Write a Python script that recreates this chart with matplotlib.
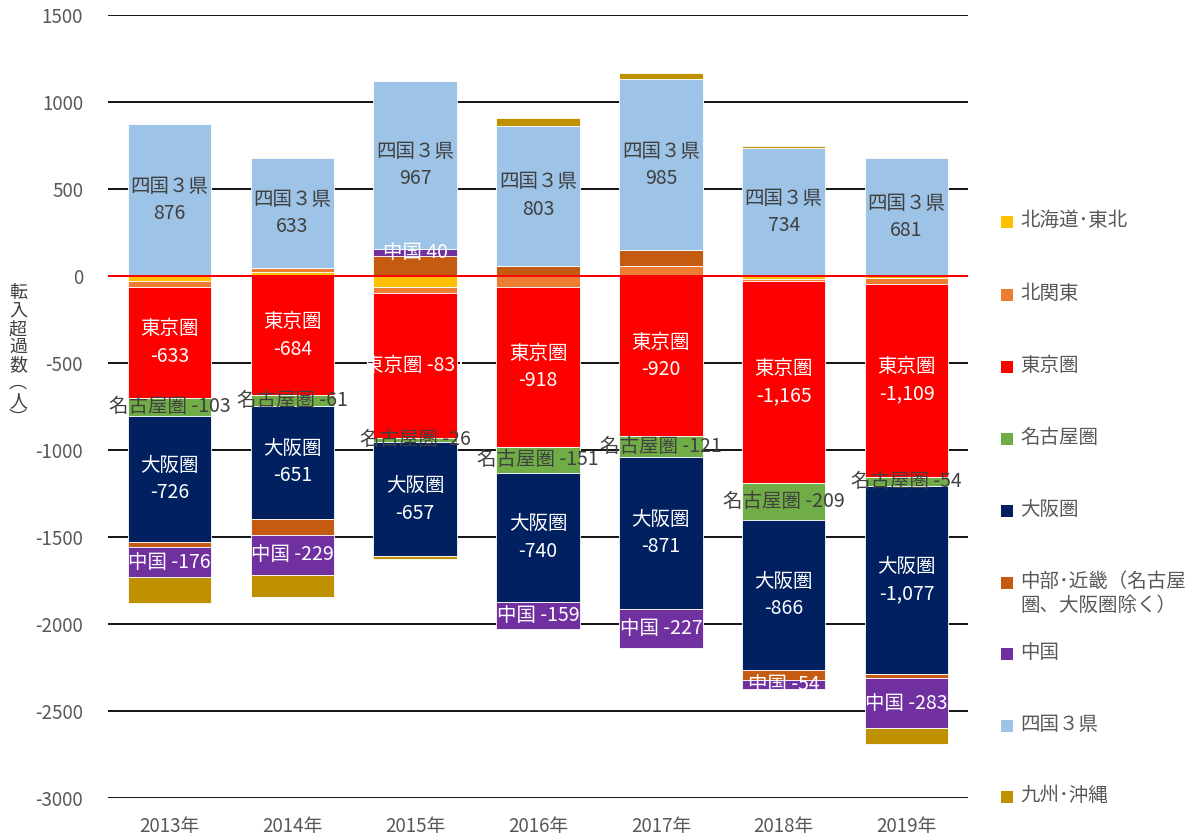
import matplotlib
matplotlib.use('Agg')
import matplotlib.pyplot as plt
from matplotlib.patches import Rectangle
import numpy as np

plt.rcParams['font.family'] = ['Noto Sans CJK JP', 'DejaVu Sans']
plt.rcParams['axes.unicode_minus'] = False

years = ['2013年', '2014年', '2015年', '2016年', '2017年', '2018年', '2019年']
legend_labels = ['北海道･東北', '北関東', '東京圏', '名古屋圏', '大阪圏',
                 '中部･近畿（名古屋\n圏、大阪圏除く）', '中国', '四国３県', '九州･沖縄']
colors = ['#FFC000', '#ED7D31', '#FF0000', '#70AD47', '#002060',
          '#C55A11', '#7030A0', '#9DC3E6', '#BF9000']

hokkaido = [-30, 22, -63, 8, 0, -18, -10]
kitakanto = [-36, 25, -35, -63, 55, -9, -35]
tokyo = [-633, -684, -831, -918, -920, -1165, -1109]
nagoya = [-103, -61, -26, -151, -121, -209, -54]
osaka = [-726, -651, -657, -740, -871, -866, -1077]
chubu = [-28, -92, 115, 52, 92, -55, -28]
chugoku = [-176, -229, 40, -159, -227, -54, -283]
shikoku = [876, 633, 967, 803, 985, 734, 681]
kyushu = [-147, -128, -15, 45, 35, 12, -96]

data = [hokkaido, kitakanto, tokyo, nagoya, osaka, chubu, chugoku, shikoku, kyushu]

fig = plt.figure(figsize=(11.96, 8.38), dpi=100)
ax = fig.add_axes([108 / 1196, 40 / 838, 860 / 1196, 783 / 838])

x = np.arange(len(years))
pos_base = np.zeros(len(years))
neg_base = np.zeros(len(years))
centers = []
for vals, col in zip(data, colors):
    v = np.array(vals, dtype=float)
    bottom = np.where(v >= 0, pos_base, neg_base)
    ax.bar(x, v, 0.68, bottom=bottom, color=col, edgecolor='white', linewidth=0.6, zorder=2)
    centers.append(bottom + v / 2)
    pos_base = pos_base + np.where(v > 0, v, 0)
    neg_base = neg_base + np.where(v < 0, v, 0)

dark = '#404040'
lab_fs = 14
for i in range(len(years)):
    # 四国3県
    ax.text(x[i], centers[7][i], f'四国３県\n{shikoku[i]:,}', ha='center', va='center',
            color=dark, fontsize=lab_fs, linespacing=1.4, zorder=4)
    # 東京圏
    if i == 2:
        t = f'東京圏 {tokyo[i]:,}'
    else:
        t = f'東京圏\n{tokyo[i]:,}'
    ax.text(x[i], centers[2][i], t, ha='center', va='center', color='white',
            fontsize=lab_fs, linespacing=1.4, zorder=4)
    # 名古屋圏
    ax.text(x[i], centers[3][i], f'名古屋圏 {nagoya[i]:,}', ha='center', va='center',
            color=dark, fontsize=lab_fs, zorder=4)
    # 大阪圏
    ax.text(x[i], centers[4][i], f'大阪圏\n{osaka[i]:,}', ha='center', va='center',
            color='white', fontsize=lab_fs, linespacing=1.4, zorder=4)
    # 中国
    ax.text(x[i], centers[6][i], f'中国 {chugoku[i]:,}', ha='center', va='center',
            color='white', fontsize=lab_fs, zorder=4)

ax.set_xlim(-0.5, len(years) - 0.5)
ax.set_ylim(-3000, 1500)
ax.set_yticks(np.arange(-3000, 1501, 500))
ax.set_xticks(x)
ax.set_xticklabels(years)
ax.grid(axis='y', color='black', linewidth=1.3, zorder=0)
ax.set_axisbelow(True)
ax.axhline(0, color='#FF0000', linewidth=1.4, zorder=3)
for s in ax.spines.values():
    s.set_visible(False)
ax.tick_params(axis='both', length=0, colors='#595959', labelsize=13.5)
ax.tick_params(axis='y', pad=18)
ax.tick_params(axis='x', pad=13)

fig.text(18 / 1196, 1 - 356 / 838, '\n'.join('転入超過数︵人︶'), ha='center', va='center',
         fontsize=13, color='#404040', linespacing=1.0)

# legend
leg_y = [222, 295, 367, 439, 511, 583, 654, 726, 797]
for ly, lab, col in zip(leg_y, legend_labels, colors):
    fig.patches.append(Rectangle((1001 / 1196, 1 - (ly + 6) / 838), 12 / 1196, 12 / 838,
                                 transform=fig.transFigure, facecolor=col, edgecolor='none'))
    fig.text(1020 / 1196, 1 - (ly - 12) / 838, lab, ha='left', va='top',
             fontsize=14, color='#595959', linespacing=1.2)

fig.savefig('out.png', dpi=100)
